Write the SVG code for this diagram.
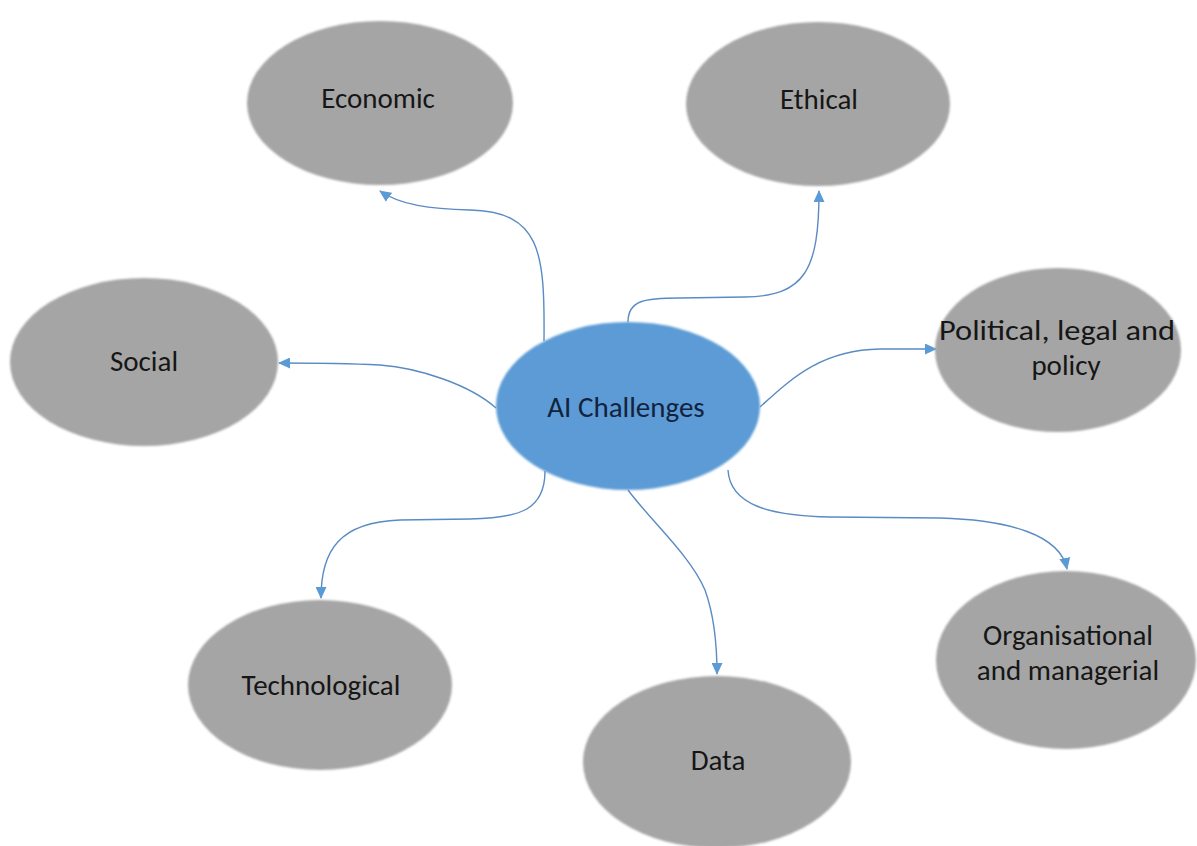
<svg xmlns="http://www.w3.org/2000/svg" width="1197" height="846" viewBox="0 0 1197 846">
<style>
.node{fill:#a5a5a5;}
.hub{fill:#5b9bd5;}
.lbl{font-family:Carlito,"Liberation Sans",Arial,sans-serif;font-size:29px;fill:#161616;text-anchor:middle;}
.hubl{fill:#14233d;}
.conn{fill:none;stroke:#5a8bc4;stroke-width:1.4;marker-end:url(#arr);}
</style>
<defs>
<marker id="arr" markerUnits="userSpaceOnUse" markerWidth="12" markerHeight="11" refX="11" refY="5.5" orient="auto" viewBox="0 0 12 11">
<path d="M0,0 L12,5.5 L0,11 z" fill="#5b9bd5"/>
</marker>
<filter id="soft" x="-5%" y="-5%" width="110%" height="110%">
<feGaussianBlur stdDeviation="0.8"/>
</filter>
</defs>
<rect width="1197" height="846" fill="#ffffff"/>
<g id="connectors">
<path class="conn" d="M544,341 C545,250 540,212 470,210 C430,209 400,205 380,191"/>
<path class="conn" d="M628,322 C628,300 645,298 680,298 L745,297 C805,296 819,270 819,191"/>
<path class="conn" d="M496,408 C470,385 420,368 380,365 C340,363 310,363 279,363"/>
<path class="conn" d="M760,407 C790,380 820,350 880,349 L936,349"/>
<path class="conn" d="M545,471 C545,510 520,518 470,519 L400,520 C340,522 321,550 321,598"/>
<path class="conn" d="M628,490 C650,520 690,555 705,590 C714,615 717,645 717,674"/>
<path class="conn" d="M728,470 C730,505 770,516 830,517 L940,518 C1010,520 1060,535 1067,569"/>
</g>
<g id="economic">
<ellipse class="node" cx="380" cy="103" rx="133" ry="82" filter="url(#soft)"/>
<text class="lbl" x="378" y="108">Economic</text>
</g>
<g id="ethical">
<ellipse class="node" cx="818" cy="104" rx="132" ry="82" filter="url(#soft)"/>
<text class="lbl" x="819" y="109">Ethical</text>
</g>
<g id="social">
<ellipse class="node" cx="144" cy="362" rx="134" ry="84" filter="url(#soft)"/>
<text class="lbl" x="144" y="371">Social</text>
</g>
<g id="political">
<ellipse class="node" cx="1058" cy="350" rx="123" ry="82" filter="url(#soft)"/>
<text class="lbl" x="1057" y="340" textLength="236" lengthAdjust="spacingAndGlyphs">Political, legal and</text>
<text class="lbl" x="1066" y="375">policy</text>
</g>
<g id="ai-challenges">
<ellipse class="hub" cx="628" cy="406" rx="132" ry="84" filter="url(#soft)"/>
<text class="lbl hubl" x="626" y="417">AI Challenges</text>
</g>
<g id="technological">
<ellipse class="node" cx="320" cy="685" rx="132" ry="85" filter="url(#soft)"/>
<text class="lbl" x="321" y="695">Technological</text>
</g>
<g id="data">
<ellipse class="node" cx="717" cy="762" rx="134" ry="86" filter="url(#soft)"/>
<text class="lbl" x="718" y="770">Data</text>
</g>
<g id="organisational">
<ellipse class="node" cx="1066" cy="660" rx="130" ry="89" filter="url(#soft)"/>
<text class="lbl" x="1068" y="645">Organisational</text>
<text class="lbl" x="1068" y="680">and managerial</text>
</g>
</svg>
